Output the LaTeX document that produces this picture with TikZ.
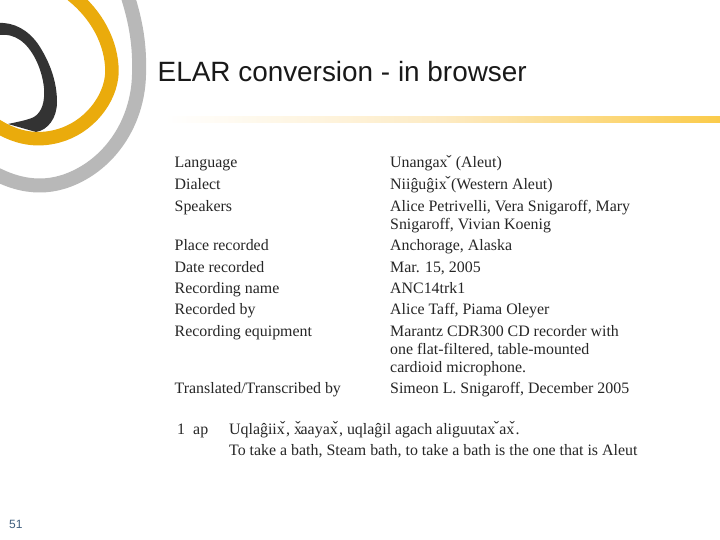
\documentclass[tikz,border=0pt]{standalone}
\usepackage{fontspec}
\setmainfont{Liberation Serif}
\newfontfamily\sansf{Liberation Sans}
\definecolor{ringgray}{HTML}{B8B8B8}
\definecolor{ringgold}{HTML}{EAAB0C}
\definecolor{ringdark}{HTML}{333333}
\definecolor{pagenum}{HTML}{3F5F7F}
\definecolor{rulemid}{HTML}{FDEBC4}
\definecolor{ruleend}{HTML}{FBCB4A}
\newcommand{\xcar}{x\kern-0.08em\raisebox{0.12em}{\smash{ˇ}}\kern0.02em}
\newcommand{\xcarb}{x\kern-0.42em\raisebox{0.12em}{\smash{ˇ}}}
\tikzset{
  meta/.style={anchor=base west,inner sep=0pt,font=\fontsize{15.9bp}{18bp}\selectfont,text=black!85},
  slidetitle/.style={anchor=base west,inner sep=0pt,font=\sansf\fontsize{27.9bp}{32bp}\selectfont,text=black!90},
  pagelabel/.style={anchor=base west,inner sep=0pt,font=\sansf\fontsize{12bp}{14bp}\selectfont,text=pagenum},
  ring/.style={line cap=butt,line join=round,fill=none}
}
\begin{document}
\begin{tikzpicture}[x=1bp,y=-1bp]
\useasboundingbox (0,0) rectangle (720,540);
\fill[white] (0,0) rectangle (720,540);
\begin{scope}
\clip (0,0) rectangle (720,540);
% gray ring
\draw[ring,ringgray,line width=14bp]
  (127,-6) .. controls (136,22) and (140,45) .. (139,75)
  .. controls (138,115) and (118,152) .. (85,172)
  .. controls (55,190) and (25,190) .. (-8,172);
% dark ring, tapering under the gold one
\fill[ringdark]
  (-2,23) .. controls (14,22) and (28,30) .. (38,44)
  .. controls (50,62) and (57,82) .. (57,102)
  .. controls (57,118) and (48,130) .. (36,132)
  -- (8,124)
  .. controls (17,122) and (28,120) .. (34,117)
  .. controls (42,112) and (45,102) .. (44,88)
  .. controls (42,68) and (32,48) .. (20,40)
  .. controls (14,36) and (8,34) .. (-2,35) -- cycle;
% gold ring
\draw[ring,ringgold,line width=13.5bp]
  (72,-5) .. controls (96,14) and (112,42) .. (112,72)
  .. controls (111,100) and (88,128) .. (58,136)
  .. controls (36,142) and (15,138) .. (-6,124);
\end{scope}
% title rule
\shade[left color=white,right color=ruleend,middle color=rulemid]
  (165,117) rectangle (720,123);
\node[slidetitle] (title) at (157.5,81.5) {ELAR conversion - in browser};
% metadata left
\node[meta] (l1) at (174.5,168) {Language};
\node[meta] (l2) at (174.5,189.5) {Dialect};
\node[meta] (l3) at (174.5,212) {Speakers};
\node[meta] (l4) at (174.5,251) {Place recorded};
\node[meta] (l5) at (174.5,272.5) {Date recorded};
\node[meta] (l6) at (174.5,293) {Recording name};
\node[meta] (l7) at (174.5,314.5) {Recorded by};
\node[meta] (l8) at (174.5,336) {Recording equipment};
\node[meta] (l9) at (174.5,393) {Translated/Transcribed by};
% metadata right
\node[meta] (r1) at (390,168) {Unanga\xcar{} (Aleut)};
\node[meta] (r2) at (390,189.5) {Niiĝuĝi\xcar{}(Western Aleut)};
\node[meta] (r3) at (390,212) {Alice Petrivelli, Vera Snigaroff, Mary};
\node[meta] (r3b) at (390,230) {Snigaroff, Vivian Koenig};
\node[meta] (r4) at (390,251) {Anchorage, Alaska};
\node[meta] (r5) at (390,272.5) {Mar. 15, 2005};
\node[meta] (r6) at (390,293) {ANC14trk1};
\node[meta] (r7) at (390,314.5) {Alice Taff, Piama Oleyer};
\node[meta] (r8) at (390,336) {Marantz CDR300 CD recorder with};
\node[meta] (r8b) at (390,354) {one flat-filtered, table-mounted};
\node[meta] (r8c) at (390,372) {cardioid microphone.};
\node[meta] (r9) at (390,393) {Simeon L. Snigaroff, December 2005};
% transcript
\node[meta] (n1) at (177,434) {1};
\node[meta] (sp) at (193,434) {ap};
\node[meta] (t1) at (229,434) {Uqlaĝiix\kern-0.3em\raisebox{0.12em}{\smash{ˇ}}\kern0.05em, \xcarb{}aayax\kern-0.3em\raisebox{0.12em}{\smash{ˇ}}\kern0.05em, uqlaĝil agach aliguutax\kern-0.1em\raisebox{0.12em}{\smash{ˇ}}\kern0.02em ax\kern-0.3em\raisebox{0.12em}{\smash{ˇ}}\kern0.05em.};
\node[meta] (t2) at (229,455.5) {To take a bath, Steam bath, to take a bath is the one that is Aleut};
\node[pagelabel] (page) at (9,528) {51};
\end{tikzpicture}
\end{document}
